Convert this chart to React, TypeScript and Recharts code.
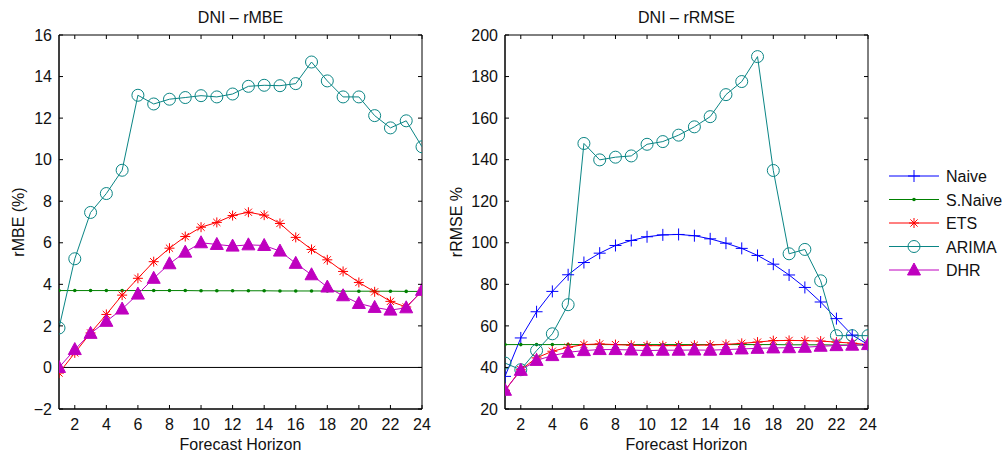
import { LineChart, Line, XAxis, YAxis, ReferenceLine, ReferenceArea } from "recharts";

const horizons = [1, 2, 3, 4, 5, 6, 7, 8, 9, 10, 11, 12, 13, 14, 15, 16, 17, 18, 19, 20, 21, 22, 23, 24];
const xTicks = [2, 4, 6, 8, 10, 12, 14, 16, 18, 20, 22, 24];
const mbeTicks = [-2, 0, 2, 4, 6, 8, 10, 12, 14, 16];
const rmseTicks = [20, 40, 60, 80, 100, 120, 140, 160, 180, 200];

// rMBE (%)
const mbeSNaive = [3.7, 3.7, 3.7, 3.7, 3.7, 3.7, 3.7, 3.7, 3.7, 3.69, 3.69, 3.69, 3.69, 3.69, 3.68, 3.68, 3.68, 3.68, 3.67, 3.67, 3.67, 3.67, 3.66, 3.66];
const mbeETS = [-0.27, 0.7, 1.66, 2.55, 3.48, 4.29, 5.09, 5.74, 6.3, 6.75, 6.98, 7.31, 7.47, 7.33, 6.93, 6.26, 5.68, 5.18, 4.62, 4.09, 3.64, 3.18, 2.91, 3.66];
const mbeARIMA = [1.9, 5.23, 7.46, 8.37, 9.49, 13.1, 12.68, 12.91, 12.99, 13.08, 13.02, 13.16, 13.53, 13.58, 13.56, 13.66, 14.7, 13.79, 13.02, 13.02, 12.12, 11.53, 11.87, 10.62];
const mbeDHR = [0.0, 0.86, 1.64, 2.22, 2.81, 3.53, 4.29, 4.99, 5.55, 6.0, 5.92, 5.84, 5.9, 5.87, 5.6, 5.01, 4.46, 3.87, 3.45, 3.08, 2.89, 2.76, 2.87, 3.71];

// rRMSE %
const rmseNaive = [35.7, 54.2, 66.8, 76.6, 84.6, 90.5, 95.0, 98.7, 101.1, 102.9, 103.8, 104.0, 103.4, 101.9, 99.8, 97.3, 93.9, 89.7, 84.5, 78.5, 71.5, 63.5, 55.6, 51.0];
const rmseSNaive = [51, 51, 51, 51, 51, 51, 51, 51, 51, 51, 51, 51, 51, 51, 51, 51, 51, 51, 50.9, 50.9, 50.9, 50.8, 50.8, 50.8];
const rmseETS = [29, 38.9, 44.6, 47.8, 49.7, 51.0, 51.3, 51.0, 50.7, 50.5, 50.5, 50.5, 50.7, 50.8, 51.1, 51.6, 52.2, 52.9, 53.0, 52.9, 52.7, 52.2, 51.7, 51.0];
const rmseARIMA = [42.1, 38.9, 48.1, 56.2, 70.2, 147.8, 139.9, 141.2, 141.8, 147.4, 148.7, 151.8, 155.8, 160.7, 171.3, 177.6, 189.6, 134.8, 94.7, 96.8, 81.7, 55.3, 55.3, 55.3];
const rmseDHR = [29, 38.6, 43.4, 45.7, 47.3, 48.1, 48.6, 48.6, 48.4, 48.1, 48.3, 48.3, 48.4, 48.3, 48.6, 48.9, 49.2, 49.4, 49.5, 49.7, 50.2, 50.5, 50.7, 51.0];

const BLUE = "#0000ff";
const GREEN = "#008000";
const RED = "#ff0000";
const TEAL = "#0a8585";
const MAGENTA = "#bf00bf";
const FONT = "'Liberation Sans', Arial, sans-serif";

// plot box edges inside each 460x455 panel
const PLOT_TOP = 35;
const PLOT_RIGHT = 422;

const mbeRows = horizons.map((h, i) => ({
  h,
  snaive: mbeSNaive[i],
  ets: mbeETS[i],
  arima: mbeARIMA[i],
  dhr: mbeDHR[i],
}));

const rmseRows = horizons.map((h, i) => ({
  h,
  naive: rmseNaive[i],
  snaive: rmseSNaive[i],
  ets: rmseETS[i],
  arima: rmseARIMA[i],
  dhr: rmseDHR[i],
}));

function PlusMark({ cx, cy, color }: any) {
  return (
    <g>
      <line x1={cx - 6} y1={cy} x2={cx + 6} y2={cy} stroke={color} strokeWidth={1} />
      <line x1={cx} y1={cy - 6} x2={cx} y2={cy + 6} stroke={color} strokeWidth={1} />
    </g>
  );
}

function DotMark({ cx, cy, color }: any) {
  return <circle cx={cx} cy={cy} r={1.8} fill={color} />;
}

function StarMark({ cx, cy, color }: any) {
  const d = 3.6;
  return (
    <g stroke={color} strokeWidth={1}>
      <line x1={cx - 5} y1={cy} x2={cx + 5} y2={cy} />
      <line x1={cx} y1={cy - 5} x2={cx} y2={cy + 5} />
      <line x1={cx - d} y1={cy - d} x2={cx + d} y2={cy + d} />
      <line x1={cx - d} y1={cy + d} x2={cx + d} y2={cy - d} />
    </g>
  );
}

function CircleMark({ cx, cy, color }: any) {
  return <circle cx={cx} cy={cy} r={6} fill="none" stroke={color} strokeWidth={1} />;
}

function TriMark({ cx, cy, color }: any) {
  return (
    <polygon
      points={`${cx},${cy - 7} ${cx - 6.5},${cy + 5} ${cx + 6.5},${cy + 5}`}
      fill={color}
      stroke={color}
      strokeWidth={1}
    />
  );
}

const dotFn = (Mark: any, color: string) => (p: any) =>
  p.cx == null || p.cy == null ? <g key={p.index} /> : <Mark key={p.index} cx={p.cx} cy={p.cy} color={color} />;

const minus = (v: number) => String(v).replace("-", "\u2212");

// x tick label + mirrored inner tick on the top edge
function XTick({ x, y, payload }: any) {
  return (
    <g>
      <line x1={x} y1={PLOT_TOP} x2={x} y2={PLOT_TOP + 4} stroke="#000" />
      <text x={x} y={y} dy="0.71em" textAnchor="middle" fill="#111" fontSize={16} fontFamily={FONT}>
        {payload.value}
      </text>
    </g>
  );
}

// y tick label + mirrored inner tick on the right edge
function YTick({ x, y, payload }: any) {
  return (
    <g>
      <line x1={PLOT_RIGHT - 4} y1={y} x2={PLOT_RIGHT} y2={y} stroke="#000" />
      <text x={x} y={y} dy="0.355em" textAnchor="end" fill="#111" fontSize={16} fontFamily={FONT}>
        {minus(payload.value)}
      </text>
    </g>
  );
}

function Panel({ rows, yDomain, yTicks, series, zeroLine }: any) {
  return (
    <LineChart width={460} height={455} data={rows} margin={{ top: PLOT_TOP, right: 460 - PLOT_RIGHT, bottom: 0, left: 0 }}>
      <XAxis
        dataKey="h"
        type="number"
        domain={[1, 24]}
        ticks={xTicks}
        allowDataOverflow
        height={46}
        tickSize={-4}
        tickMargin={14}
        tick={<XTick />}
        axisLine={{ stroke: "#000" }}
        tickLine={{ stroke: "#000" }}
        interval={0}
      />
      <YAxis
        type="number"
        domain={yDomain}
        ticks={yTicks}
        allowDataOverflow
        width={59}
        tickSize={-4}
        tickMargin={11}
        tick={<YTick />}
        axisLine={{ stroke: "#000" }}
        tickLine={{ stroke: "#000" }}
        interval={0}
      />
      <ReferenceArea
        x1={1}
        x2={24}
        y1={yDomain[0]}
        y2={yDomain[1]}
        fill="none"
        fillOpacity={0}
        stroke="#000"
        strokeWidth={1}
        strokeOpacity={1}
        ifOverflow="visible"
      />
      {zeroLine && <ReferenceLine y={0} stroke="#000" strokeWidth={1} />}
      {series.map((s: any) => (
        <Line
          key={s.key}
          dataKey={s.key}
          stroke={s.color}
          strokeWidth={1}
          dot={dotFn(s.mark, s.color)}
          activeDot={false}
          isAnimationActive={false}
          legendType="none"
        />
      ))}
    </LineChart>
  );
}

const legendItems = [
  { name: "Naive", color: BLUE, mark: PlusMark },
  { name: "S.Naive", color: GREEN, mark: DotMark },
  { name: "ETS", color: RED, mark: StarMark },
  { name: "ARIMA", color: TEAL, mark: CircleMark },
  { name: "DHR", color: MAGENTA, mark: TriMark },
];

export default function App() {
  const mbeSeries = [
    { key: "snaive", color: GREEN, mark: DotMark },
    { key: "ets", color: RED, mark: StarMark },
    { key: "arima", color: TEAL, mark: CircleMark },
    { key: "dhr", color: MAGENTA, mark: TriMark },
  ];
  const rmseSeries = [
    { key: "naive", color: BLUE, mark: PlusMark },
    { key: "snaive", color: GREEN, mark: DotMark },
    { key: "ets", color: RED, mark: StarMark },
    { key: "arima", color: TEAL, mark: CircleMark },
    { key: "dhr", color: MAGENTA, mark: TriMark },
  ];

  return (
    <div style={{ position: "absolute", left: 0, top: 0, width: 1008, height: 455, background: "#fff", fontFamily: FONT }}>
      <div style={{ position: "absolute", left: 0, top: 0 }}>
        <Panel rows={mbeRows} yDomain={[-2, 16]} yTicks={mbeTicks} series={mbeSeries} zeroLine />
      </div>
      <div style={{ position: "absolute", left: 446, top: 0 }}>
        <Panel rows={rmseRows} yDomain={[20, 200]} yTicks={rmseTicks} series={rmseSeries} />
      </div>
      <svg width={1008} height={455} style={{ position: "absolute", left: 0, top: 0, pointerEvents: "none" }}>
        <g fontFamily={FONT} fontSize={16} fill="#111">
          <text x={240.5} y={23} textAnchor="middle">DNI – rMBE</text>
          <text x={686.5} y={23} textAnchor="middle">DNI – rRMSE</text>
          <text x={240.5} y={450} textAnchor="middle">Forecast Horizon</text>
          <text x={686.5} y={450} textAnchor="middle">Forecast Horizon</text>
          <text x={24} y={222} textAnchor="middle" transform="rotate(-90 24 222)">rMBE (%)</text>
          <text x={462} y={222} textAnchor="middle" transform="rotate(-90 462 222)">rRMSE %</text>
        </g>
        {legendItems.map((it, i) => {
          const y = 176 + i * 23.5;
          const Mark = it.mark;
          return (
            <g key={it.name}>
              <line x1={889} y1={y} x2={939} y2={y} stroke={it.color} strokeWidth={1} />
              <Mark cx={914} cy={y} color={it.color} />
              <text x={946} y={y + 6} fontFamily={FONT} fontSize={16} fill="#111">{it.name}</text>
            </g>
          );
        })}
      </svg>
    </div>
  );
}
